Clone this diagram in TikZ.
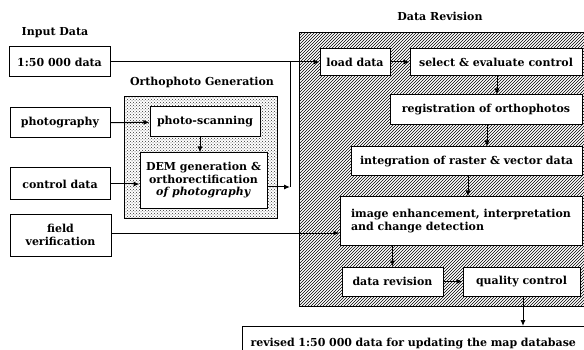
\documentclass[tikz,border=0pt]{standalone}
\usepackage{fontspec}
\setmainfont{DejaVu Serif}
\usetikzlibrary{arrows.meta,patterns}

\begin{document}
\begin{tikzpicture}[x=1pt,y=-1pt,>={Latex[length=6pt,width=5pt]},
		box/.style={draw,fill=white,line width=1pt,inner sep=2pt,font=\fontsize{11}{12.5}\selectfont\bfseries},
		head/.style={font=\fontsize{11}{12.5}\selectfont\bfseries},
		link/.style={line width=1pt}]
			\useasboundingbox (0,0) rectangle (584,350);
			% shaded areas
			\draw[line width=1pt,pattern=crosshatch dots,pattern color=black!80] (124,97) rectangle (277,218);
			\draw[line width=1pt,pattern=north east lines] (299,33) rectangle (590,306);
			% headings
			\node[head] (hin) at (55,33) {Input Data};
			\node[head] (hortho) at (202,82) {Orthophoto Generation};
			\node[head] (hrev) at (440,16) {Data Revision};
			% input data
			\node[box,minimum width=101,minimum height=30] (in50) at (59.5,62) {1:50 000 data};
			\node[box,minimum width=100,minimum height=30] (photo) at (60,123) {photography};
			\node[box,minimum width=100,minimum height=32] (ctrl) at (60,184) {control data};
			\node[box,minimum width=101,minimum height=42,align=center] (field) at (60.5,235) {field\\verification};
			% orthophoto generation
			\node[box,minimum width=110,minimum height=30] (scan) at (205,122) {photo-scanning};
			\node[box,minimum width=127,minimum height=55,align=center] (dem) at (203.5,180.5) {DEM generation \&\\orthorectification\\\textit{of photography}};
			% data revision
			\node[box,minimum width=70,minimum height=27] (load) at (355,62) {load data};
			\node[box,minimum width=172,minimum height=27] (sel) at (496,62) {select \& evaluate control};
			\node[box,minimum width=192,minimum height=30] (reg) at (486,110) {registration of orthophotos};
			\node[box,minimum width=231,minimum height=29] (integ) at (466.5,161.5) {integration of raster \& vector data};
			\node[box,minimum width=242,minimum height=48,align=left] (enh) at (461,221) {image enhancement, interpretation\\ and change detection};
			\node[box,minimum width=101,minimum height=29] (drev) at (392.5,281.5) {data revision};
			\node[box,minimum width=117,minimum height=29] (qc) at (521.5,281.5) {quality control};
			\node[box,anchor=north west,text width=350,minimum height=34,inner sep=8pt] (out) at (242,326) {revised 1:50 000 data for updating the map database};
			% connectors
			\coordinate (jtop) at (290,62);
			\coordinate (jdem) at (290,187);
			\draw[link] (in50) -- (jtop);
			\draw[link,->] (jtop) -- (load);
			\draw[link,->] (dem.east |- jdem) -- (jdem);
			\draw[link] (jdem) -- (jtop);
			\foreach \a/\b in {photo/scan, load/sel, drev/qc} {\draw[link,->] (\a) -- (\b);};
			\draw[link,->] (ctrl) -- (ctrl -| dem.west);
			\draw[link,->] (field.east |- 0,233) -- (enh.west |- 0,233);
			\draw[link,->] (scan.south -| 200,0) -- (dem.north -| 200,0);
			\draw[link,->] (sel.south -| 497,0) -- (reg.north -| 497,0);
			\draw[link,->] (reg.south -| 487,0) -- (integ.north -| 487,0);
			\draw[link,->] (integ.south -| 468,0) -- (enh.north -| 468,0);
			\draw[link,->] (enh.south -| drev) -- (drev);
			\draw[link,->] (qc.south -| 523,0) -- (out.north -| 523,0);
		\end{tikzpicture}
\end{document}
